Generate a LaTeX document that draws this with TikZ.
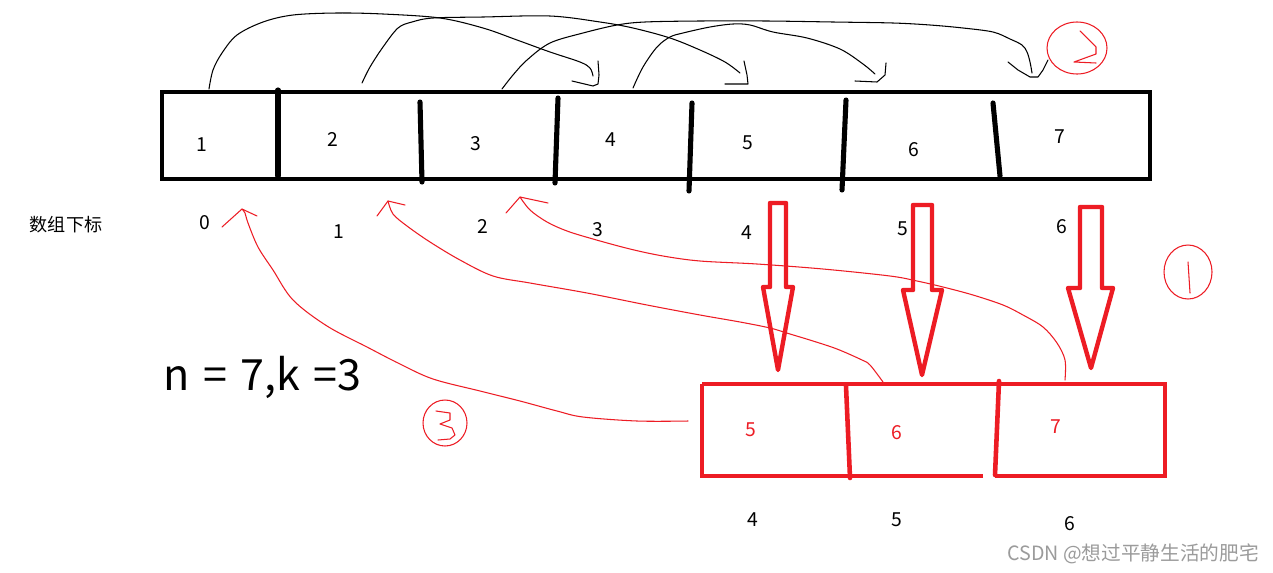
\documentclass[tikz,border=0pt]{standalone}
\usepackage{fontspec}
\setmainfont{Noto Sans CJK SC}
\newfontfamily\widefont[WordSpace=1.4]{Noto Sans CJK SC}
\definecolor{pred}{RGB}{237,28,36}
\definecolor{wmgray}{RGB}{155,155,155}
\begin{document}
\begin{tikzpicture}[x=0.02cm,y=-0.02cm,
  num/.style={font=\fontsize{11}{13}\selectfont, inner sep=0pt},
  rnum/.style={num, text=pred},
  frame/.style={line width=2.6pt},
  divider/.style={line width=2.9pt, line cap=round},
  redline/.style={draw=pred, line width=2.6pt},
  sketch/.style={line width=0.6pt, line join=round, line cap=round},
  rsketch/.style={sketch, draw=pred},
  hollow/.style={draw=pred, line width=2.5pt, line join=round},
]
\useasboundingbox (0,0) rectangle (1273,572);
\fill[white] (0,0) rectangle (1273,572);

% ---------- top array ----------
\draw[frame] (162,92) rectangle (1150,179);
\draw[divider] (278,90) -- (278,176);
\draw[divider] (420,102) -- (422,182);
\draw[divider] (558,98) -- (555,183);
\draw[divider] (692,103) -- (689,191);
\draw[divider] (846,100) -- (842,190);
\draw[divider] (993,103) -- (1000,176);

\node[num] (c1) at (202,145) {1};
\node[num] (c2) at (333,139) {2};
\node[num] (c3) at (476,144) {3};
\node[num] (c4) at (611,140) {4};
\node[num] (c5) at (748,143) {5};
\node[num] (c6) at (914,150) {6};
\node[num] (c7) at (1060,137) {7};

% ---------- index labels ----------
\node[inner sep=0pt, font=\fontsize{10.3}{12}\selectfont] (lbl) at (66,225) {数组下标};
\node[num] (i0) at (205,223) {0};
\node[num] (i1) at (339,232) {1};
\node[num] (i2) at (483,226) {2};
\node[num] (i3) at (598,230) {3};
\node[num] (i4) at (747,233) {4};
\node[num] (i5) at (903,229) {5};
\node[num] (i6) at (1062,227) {6};

% ---------- formula ----------
\node[inner sep=0pt, anchor=base west, font=\widefont\fontsize{24.5}{28}\selectfont] (nk) at (163,390) {n = 7,k =3};

% ---------- black curves (shift by k) ----------
\coordinate (s1) at (209,89);
\coordinate (s2) at (362,83);
\coordinate (s3) at (502,89);
\coordinate (s4) at (633,88);
\draw[sketch] plot[smooth, tension=0.55] coordinates {(s1) (213,70) (222,53) (237,35) (263,22) (293,15) (337,13) (383,14) (440,18) (483,28) (517,40) (550,52) (580,62) (590,68) (593,76)};
\draw[sketch] (598,61) -- (599,75) -- (598,84) -- (593,86) -- (572,81);
\draw[sketch] plot[smooth, tension=0.55] coordinates {(s2) (370,67) (383,47) (398,28) (412,22) (433,18) (483,17) (550,16) (600,22) (633,28) (670,38) (700,50) (725,62) (740,73)};
\draw[sketch] (744,61) -- (747,75) -- (748,84) -- (725,84);
\draw[sketch] plot[smooth, tension=0.55] coordinates {(s3) (513,75) (527,60) (550,43) (583,33) (617,25) (645,22) (700,21) (767,21) (833,22) (893,23) (930,25) (963,28) (993,32) (1010,39) (1022,45) (1027,52) (1030,62) (1032,73)};
\draw[sketch] (1008,62) -- (1018,70) -- (1030,77) -- (1038,77) -- (1043,70) -- (1048,60);
\draw[sketch] plot[smooth, tension=0.55] coordinates {(s4) (643,67) (657,47) (670,37) (683,33) (710,27) (733,24) (750,25) (773,32) (807,38) (840,49) (863,64) (875,74)};
\draw[sketch] (886,63) -- (885,75) -- (877,82) -- (855,81);

% circled 2
\draw[rsketch] (1077,48) ellipse [x radius=30, y radius=26];
\draw[rsketch] (1080,31) -- (1096,47) -- (1096,54) -- (1074,62) -- (1096,63);

% ---------- hollow red arrows ----------
\draw[hollow] (770,203) -- (786,203) -- (786,287) -- (793,287) -- (778,370) -- (763,287) -- (770,287) -- cycle;
\draw[hollow] (913,205) -- (932,205) -- (932,290) -- (942,290) -- (922,375) -- (903,290) -- (913,290) -- cycle;
\draw[hollow] (1080,207) -- (1102,207) -- (1102,288) -- (1113,288) -- (1091,368) -- (1068,288) -- (1080,288) -- cycle;

% circled 1
\draw[rsketch] (1188,272) ellipse [x radius=24, y radius=27];
\draw[rsketch] (1188,262) -- (1190,293);

% ---------- red result array ----------
\draw[redline] (702,384) -- (1165,384) -- (1165,476) -- (995,476);
\draw[redline] (983,476) -- (702,476) -- (702,384);
\draw[redline, line cap=round] (846,386) -- (850,478);
\draw[redline, line cap=round] (999,381) -- (995,475);

\node[rnum] (r5) at (751,430) {5};
\node[rnum] (r6) at (897,433) {6};
\node[rnum] (r7) at (1056,427) {7};

\node[num] (b4) at (753,520) {4};
\node[num] (b5) at (897,520) {5};
\node[num] (b6) at (1070,524) {6};

% ---------- red curves back to the front ----------
\coordinate (e1) at (688,421);
\coordinate (e2) at (883,382);
\coordinate (e3) at (1065,380);
\coordinate (t0) at (242,209);
\coordinate (t1) at (388,201);
\coordinate (t2) at (520,197);
\draw[rsketch] plot[smooth, tension=0.55] coordinates {(e1) (637,421) (583,417) (557,411) (520,401) (480,391) (433,379) (400,364) (367,347) (327,326) (293,300) (273,270) (258,247) (248,223) (245,213) (t0)};
\draw[rsketch] (222,227) -- (t0) -- (257,216);
\draw[rsketch] plot[smooth, tension=0.55] coordinates {(e2) (870,365) (862,360) (837,349) (813,341) (790,334) (770,328) (740,322) (700,315) (647,305) (587,293) (530,283) (493,276) (460,260) (430,242) (407,226) (393,214) (t1)};
\draw[rsketch] (377,216) -- (t1) -- (405,205);
\draw[rsketch] plot[smooth, tension=0.55] coordinates {(e3) (1065,360) (1057,343) (1043,327) (1023,315) (1003,305) (973,295) (943,287) (917,281) (890,276) (823,269) (757,264) (700,261) (663,256) (630,249) (593,239) (567,231) (547,222) (530,210) (t2)};
\draw[rsketch] (506,213) -- (t2) -- (548,203);

% circled 3
\draw[rsketch] (445,423) ellipse [x radius=22, y radius=23];
\draw[rsketch] (436,411) -- (450,413) -- (450,420) -- (440,424) -- (452,428) -- (455,435) -- (450,439) -- (438,440);

% ---------- watermark ----------
\node[inner sep=0pt, anchor=west, text=wmgray, font=\fontsize{11.2}{13}\selectfont] (wm) at (1007,554) {CSDN @想过平静生活的肥宅};
\end{tikzpicture}
\end{document}
